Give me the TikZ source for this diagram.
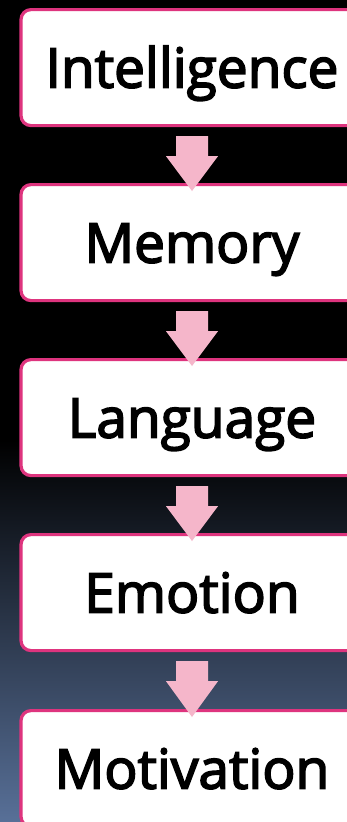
\documentclass[tikz,border=0pt]{standalone}
\usepackage{fontspec}
\setmainfont{Open Sans}
\newfontfamily\stagefont{Open Sans}[FakeBold=3]
\usetikzlibrary{calc}
\definecolor{boxborder}{RGB}{222,52,126}
\definecolor{arrowpink}{RGB}{245,182,202}
\definecolor{bgbottom}{RGB}{88,112,152}
\begin{document}
\begin{tikzpicture}[x=1pt,y=1pt,
  stagebox/.style={draw=boxborder, line width=3.2pt, fill=white, rounded corners=10pt,
    minimum width=342pt, minimum height=116pt, inner sep=0pt, anchor=north,
    text height=40pt, text depth=0pt,
    font=\stagefont\fontsize{55}{60}\selectfont},
  blockarrow/.style={fill=arrowpink, draw=none}]
\useasboundingbox (0,0) rectangle (347,-822);
\clip (0,0) rectangle (347,-822);
\fill[black] (0,0) rectangle (347,-441);
\shade[top color=black, bottom color=bgbottom] (0,-440) rectangle (347,-822);
\node[stagebox] (b1) at (192,-8) {Intelligence};
\node[stagebox] (b2) at (192,-183) {Memory};
\node[stagebox] (b3) at (192,-358) {Language};
\node[stagebox] (b4) at (192,-533) {Emotion};
\node[stagebox] (b5) at (192,-709) {Motivation};
\foreach \a/\b in {b1/b2,b2/b3,b3/b4,b4/b5}{
  \fill[blockarrow]
    ($(\a.south)+(-16,-9)$) -- ($(\a.south)+(16,-9)$) --
    ($(\a.south)+(16,-29)$) -- ($(\a.south)+(26,-29)$) --
    ($(\b.north)+(0,-8)$) --
    ($(\a.south)+(-26,-29)$) -- ($(\a.south)+(-16,-29)$) -- cycle;
}
\end{tikzpicture}
\end{document}
